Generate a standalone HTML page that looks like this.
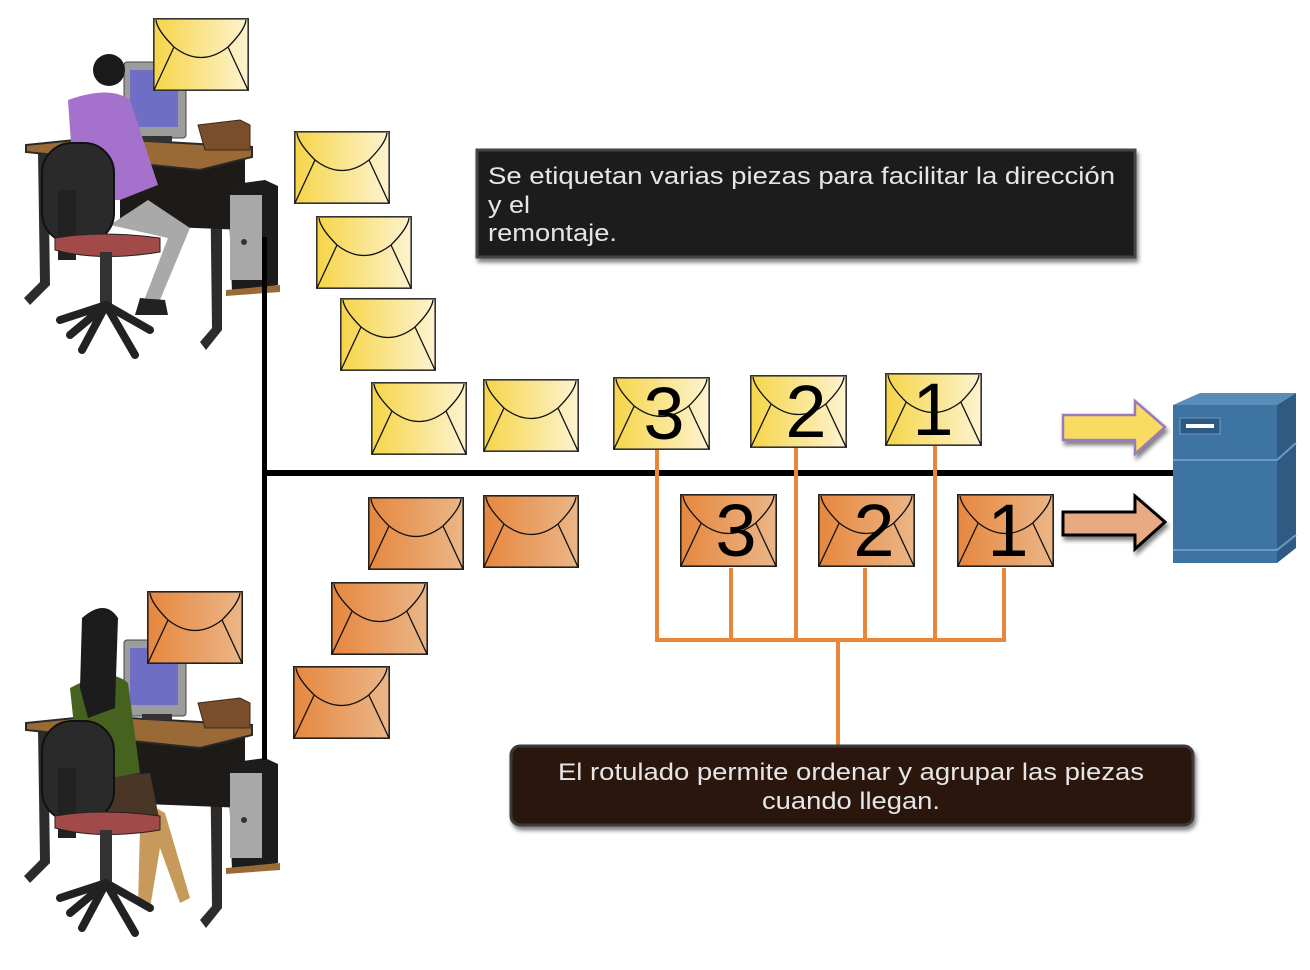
<!DOCTYPE html>
<html><head><meta charset="utf-8"><style>
html,body{margin:0;padding:0;background:#fff;}
svg{display:block;}
</style></head><body>
<svg width="1310" height="970" viewBox="0 0 1310 970" xmlns="http://www.w3.org/2000/svg" font-family="Liberation Sans, sans-serif">
<defs>
<linearGradient id="gy" x1="0" x2="1" y1="0" y2="0"><stop offset="0" stop-color="#f6d548"/><stop offset="1" stop-color="#fdf3d0"/></linearGradient>
<linearGradient id="go" x1="0" x2="1" y1="0" y2="0"><stop offset="0" stop-color="#e6873e"/><stop offset="1" stop-color="#ebb688"/></linearGradient>
<symbol id="ey" viewBox="0 0 96 73" preserveAspectRatio="none">
<rect x="0.8" y="0.8" width="94.4" height="71.4" fill="url(#gy)" stroke="#333" stroke-width="1.6"/>
<path d="M3,2 Q4,12 21,29 Q48,50 75,29 Q92,12 93,2 M21,29 L1,72 M75,29 L95,72" fill="none" stroke="#111" stroke-width="1.3"/>
</symbol>
<symbol id="eo" viewBox="0 0 96 73" preserveAspectRatio="none">
<rect x="0.8" y="0.8" width="94.4" height="71.4" fill="url(#go)" stroke="#222" stroke-width="1.6"/>
<path d="M3,2 Q4,12 21,29 Q48,50 75,29 Q92,12 93,2 M21,29 L1,72 M75,29 L95,72" fill="none" stroke="#111" stroke-width="1.3"/>
</symbol>
<filter id="sh" x="-10%" y="-10%" width="130%" height="140%"><feDropShadow dx="2" dy="4" stdDeviation="2" flood-color="#000" flood-opacity="0.5"/></filter>
<g id="ws">
 <path d="M38,152 L48,152 L50,285 L30,305 L24,298 L40,282 Z" fill="#2c2c2c"/>
 <path d="M210,165 L222,165 L222,330 L206,350 L200,342 L212,328 Z" fill="#2c2c2c"/>
 <path d="M120,150 L245,150 L245,230 L120,225 Z" fill="#1e1a18"/>
 <path d="M26,145 L95,138 L252,147 L252,157 L200,170 L26,152 Z" fill="#9a6a36" stroke="#2a2a2a" stroke-width="2"/>
 <rect x="124" y="62" width="62" height="76" rx="3" fill="#9c9c9c" stroke="#444"/>
 <rect x="130" y="70" width="48" height="57" fill="#6e6fc4"/>
 <rect x="142" y="136" width="30" height="6" fill="#333"/>
 <path d="M198,125 L240,120 L250,125 L250,150 L205,150 Z" fill="#7a4e2a" stroke="#3a2a1a"/>
 <path d="M228,185 L265,180 L278,186 L278,285 L232,292 Z" fill="#1c1c1c"/>
 <rect x="230" y="195" width="32" height="85" fill="#a8a8a8"/>
 <circle cx="244" cy="242" r="3" fill="#333"/>
 <path d="M226,290 L280,285 L280,292 L226,296 Z" fill="#9a6a36"/>
</g>
<g id="chair">
 <rect x="42" y="143" width="72" height="100" rx="30" fill="#2a2a2a" stroke="#111" stroke-width="2"/>
 <rect x="58" y="190" width="18" height="70" fill="#222"/>
 <path d="M55,238 Q100,230 160,238 L160,252 Q100,262 55,250 Z" fill="#a24a4a" stroke="#222"/>
 <rect x="100" y="252" width="12" height="55" fill="#333"/>
 <path d="M60,320 L106,305 L150,330 M106,305 L82,350 M106,305 L135,355 M106,305 L70,335" stroke="#222" stroke-width="8" fill="none" stroke-linecap="round"/>
</g>
</defs>

<use href="#ws"/>
<path d="M148,200 L190,228 L160,300 L145,298 L168,238 L110,225 Z" fill="#a9a9a9"/>
<path d="M140,298 L165,300 L168,315 L135,315 Z" fill="#222"/>
<path d="M68,100 Q110,85 130,100 L158,185 L140,192 L120,200 L75,200 Z" fill="#a472cc"/>
<circle cx="109" cy="70" r="16" fill="#1a1a1a"/>
<use href="#chair"/>

<g transform="translate(0,578)">
<use href="#ws"/>
<path d="M120,210 L165,235 L190,320 L180,325 L160,270 L150,330 L138,328 L140,250 Z" fill="#c79a5c"/>
<path d="M95,200 L150,195 L160,245 L100,250 Z" fill="#4a3626"/>
<path d="M70,110 Q110,88 128,105 L140,195 L80,205 Z" fill="#45631f"/>
<path d="M82,40 Q105,20 118,40 L115,130 L88,140 L80,110 Z" fill="#1c1c1c"/>
<use href="#chair"/>
</g>

<rect x="262" y="237" width="5" height="523" fill="#000"/>
<rect x="264" y="470" width="912" height="6" fill="#000"/>

<g stroke="#e8873c" stroke-width="4" fill="none">
<path d="M657,450 V640 M796,448 V640 M935,446 V640 M731,568 V640 M865,568 V640 M1004,568 V640 M655,640 H1006 M838,640 V745"/>
</g>

<use href="#ey" x="153" y="18" width="96" height="73"/>
<use href="#ey" x="294" y="131" width="96" height="73"/>
<use href="#ey" x="316" y="216" width="96" height="73"/>
<use href="#ey" x="340" y="298" width="96" height="73"/>
<use href="#ey" x="371" y="382" width="96" height="73"/>
<use href="#ey" x="483" y="379" width="96" height="73"/>
<use href="#ey" x="613" y="377" width="97" height="73"/>
<use href="#ey" x="750" y="375" width="97" height="73"/>
<use href="#ey" x="885" y="373" width="97" height="73"/>
<use href="#eo" x="368" y="497" width="96" height="73"/>
<use href="#eo" x="483" y="495" width="96" height="73"/>
<use href="#eo" x="680" y="494" width="97" height="73"/>
<use href="#eo" x="818" y="494" width="97" height="73"/>
<use href="#eo" x="957" y="494" width="97" height="73"/>
<use href="#eo" x="331" y="582" width="97" height="73"/>
<use href="#eo" x="147" y="591" width="96" height="73"/>
<use href="#eo" x="293" y="666" width="97" height="73"/>

<g font-size="74" fill="#000" text-anchor="middle">
<text x="664" y="439">3</text>
<text x="806" y="437">2</text>
<text x="933" y="435">1</text>
<text x="736" y="556">3</text>
<text x="874" y="556">2</text>
<text x="1008" y="556">1</text>
</g>

<path d="M1063,415 L1135,415 L1135,401 L1165,427 L1135,454 L1135,440 L1063,440 Z" fill="#f8dc62" stroke="#9a7ab8" stroke-width="2.5" filter="url(#sh)"/>
<path d="M1063,512 L1135,512 L1135,496 L1165,522 L1135,549 L1135,535 L1063,535 Z" fill="#e8aa82" stroke="#000" stroke-width="3" filter="url(#sh)"/>

<path d="M1173,405 L1200,393 L1296,393 L1277,405 Z" fill="#5a8cb8"/>
<path d="M1277,405 L1296,393 L1296,548 L1277,563 Z" fill="#2f5b82"/>
<rect x="1173" y="405" width="104" height="158" fill="#3e74a2"/>
<path d="M1173,460 L1277,460 L1296,443" stroke="#6a9ac4" stroke-width="2" fill="none"/>
<path d="M1173,550 L1277,550 L1296,535" stroke="#6a9ac4" stroke-width="2" fill="none"/>
<rect x="1180" y="418" width="40" height="16" fill="#2c5a82" stroke="#6a9ac4"/>
<rect x="1186" y="424" width="28" height="4" fill="#fff"/>

<rect x="477" y="150" width="658" height="107" fill="#1a1a1a" stroke="#444" stroke-width="3" filter="url(#sh)"/>
<g fill="#e6e6e6" font-size="24">
<text x="488" y="184" textLength="627" lengthAdjust="spacingAndGlyphs">Se etiquetan varias piezas para facilitar la dirección</text>
<text x="488" y="213" textLength="42" lengthAdjust="spacingAndGlyphs">y el</text>
<text x="488" y="241" textLength="129" lengthAdjust="spacingAndGlyphs">remontaje.</text>
</g>

<rect x="511" y="746" width="682" height="79" rx="9" fill="#2a1608" stroke="#3a3a3a" stroke-width="3" filter="url(#sh)"/>
<g fill="#e6e6e6" font-size="24" text-anchor="middle">
<text x="851" y="780" textLength="586" lengthAdjust="spacingAndGlyphs">El rotulado permite ordenar y agrupar las piezas</text>
<text x="851" y="809" textLength="178" lengthAdjust="spacingAndGlyphs">cuando llegan.</text>
</g>
</svg>
</body></html>
